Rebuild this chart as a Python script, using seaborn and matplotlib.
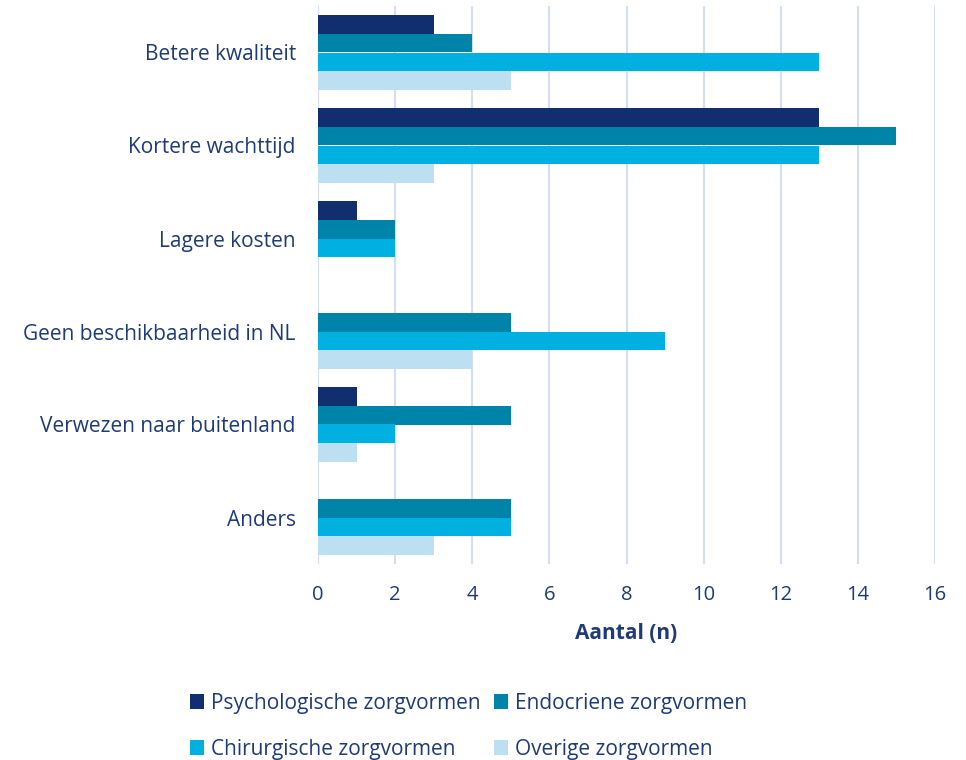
import matplotlib
matplotlib.use("Agg")
import matplotlib.pyplot as plt
import seaborn as sns
import pandas as pd
from matplotlib.patches import Patch

categories = ["Betere kwaliteit", "Kortere wachttijd", "Lagere kosten",
              "Geen beschikbaarheid in NL", "Verwezen naar buitenland", "Anders"]
series = ["Psychologische zorgvormen", "Endocriene zorgvormen",
          "Chirurgische zorgvormen", "Overige zorgvormen"]
psychologisch = [3, 13, 1, 0, 1, 0]
endocrien = [4, 15, 2, 5, 5, 5]
chirurgisch = [13, 13, 2, 9, 2, 5]
overig = [5, 3, 0, 4, 1, 3]
xticks = [0, 2, 4, 6, 8, 10, 12, 14, 16]
xlabel = "Aantal (n)"

colors = ["#112e6e", "#0083a9", "#00b0e0", "#bddff2"]
text_color = "#1f3a78"

sns.set_theme(style="white")
plt.rcParams["font.family"] = ["Open Sans", "DejaVu Sans"]

rows = []
for s, vals in zip(series, [psychologisch, endocrien, chirurgisch, overig]):
    for c, v in zip(categories, vals):
        rows.append({"Categorie": c, "Reeks": s, "Aantal": v})
df = pd.DataFrame(rows)

fig = plt.figure(figsize=(9.66, 7.6), dpi=100)
ax = fig.add_axes([318 / 966, 1 - 564 / 760, (935 - 318) / 966, (564 - 6) / 760])
sns.barplot(data=df, y="Categorie", x="Aantal", hue="Reeks", order=categories,
            hue_order=series, palette=colors, orient="h", width=0.8,
            saturation=1, ax=ax, legend=False, linewidth=0)

ax.set_xlim(0, 16)
ax.set_xticks(xticks)
ax.set_xticklabels([str(t) for t in xticks])
ax.grid(axis="x", color="#d3def4", linewidth=1.5)
ax.set_axisbelow(True)
for sp in ax.spines.values():
    sp.set_visible(False)
ax.tick_params(axis="x", length=0, labelsize=14.5, colors=text_color, pad=15)
ax.tick_params(axis="y", length=0, labelsize=15, colors=text_color, pad=16)
ax.set_ylabel("")
ax.set_xlabel(xlabel, fontsize=15, fontweight="bold", color=text_color, labelpad=13)

order = [0, 2, 1, 3]
handles = [Patch(facecolor=colors[i], edgecolor="none") for i in order]
labels = [series[i] for i in order]
leg = fig.legend(handles, labels, loc="center", bbox_to_anchor=(0.485, 1 - 726 / 760),
                 ncol=2, frameon=False, fontsize=15, handlelength=0.7, handleheight=0.7,
                 handletextpad=0.35, columnspacing=0.6, labelspacing=1.2,
                 labelcolor=text_color)

fig.savefig("out.png", dpi=100)
